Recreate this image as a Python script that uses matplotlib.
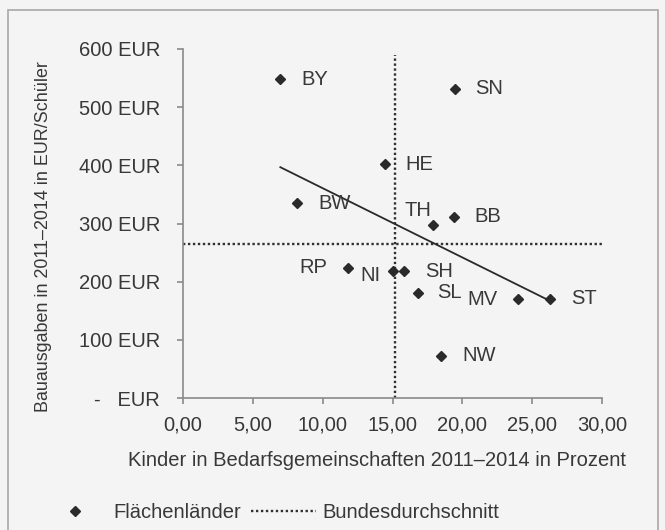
import numpy as np
import matplotlib
matplotlib.use("Agg")
import matplotlib.pyplot as plt
from matplotlib.lines import Line2D
from matplotlib.patches import Rectangle

plt.rcParams['font.family'] = ['Liberation Sans', 'DejaVu Sans']

# Flächenländer: Kinder in Bedarfsgemeinschaften (%) vs. Bauausgaben (EUR/Schüler)
laender = ["BY", "SN", "HE", "BW", "TH", "BB", "RP", "NI", "SH", "SL", "MV", "ST", "NW"]
kinder = [6.97, 19.45, 14.45, 8.18, 17.88, 19.39, 11.82, 15.0, 15.82, 16.82, 24.0, 26.27, 18.48]
bauausgaben = [548, 532, 402, 335, 298, 312, 224, 218, 218, 181, 171, 171, 73]

# Bundesdurchschnitt
avg_kinder = 15.2
avg_bau = 264

yticks = [0, 100, 200, 300, 400, 500, 600]
ytick_labels = ["-   EUR", "100 EUR", "200 EUR", "300 EUR", "400 EUR", "500 EUR", "600 EUR"]
xticks = [0, 5, 10, 15, 20, 25, 30]

# label offsets (points) and alignment per Land
offsets = {
    "BY": (15, 0, "left"), "SN": (15, 0, "left"), "HE": (15, 0, "left"),
    "BW": (15, 0, "left"), "TH": (-11, 10, "center"), "BB": (15, 0, "left"),
    "RP": (-15, 0, "right"), "NI": (-9, -3, "right"), "SH": (15, 0, "left"),
    "SL": (14, 0, "left"), "MV": (-15, -1, "right"), "ST": (15, 0, "left"),
    "NW": (15, 0, "left"),
}

txt = '#383838'
grey = '#8a8a8a'
fs = 14.5

fig = plt.figure(figsize=(6.65, 5.3), dpi=100)
fig.patch.set_facecolor('#f4f4f4')
fig.add_artist(Rectangle((8/665, -0.02), 650/665, 1 - 10/530 + 0.02, transform=fig.transFigure,
                         fill=False, edgecolor='#a8a8a8', linewidth=1.2))

ax = fig.add_axes([183/665, 1 - 398/530, 419/665, 349/530])
ax.set_facecolor('none')

ax.plot([0, 30], [avg_bau, avg_bau], color='#303030', linewidth=1.7, linestyle=(0, (1, 1.1)))
ax.plot([avg_kinder, avg_kinder], [0, 590], color='#303030', linewidth=1.7, linestyle=(0, (1, 1.1)))

# Trendlinie
k, d = np.polyfit(kinder, bauausgaben, 1)
xs = np.array([min(kinder), max(kinder)])
ax.plot(xs, k * xs + d, color='#2a2a2a', linewidth=1.3)

ax.plot(kinder, bauausgaben, linestyle='none', marker='D', markersize=5.3, color='#2a2a2a')

for name, x, y in zip(laender, kinder, bauausgaben):
    dx, dy, ha = offsets[name]
    ax.annotate(name, (x, y), xytext=(dx, dy), textcoords='offset points',
                ha=ha, va='center', fontsize=fs, color=txt)

ax.set_xlim(0, 30)
ax.set_ylim(0, 600)
ax.set_xticks(xticks)
ax.set_xticklabels([f"{v:.2f}".replace('.', ',') for v in xticks])
ax.set_yticks(yticks)
ax.set_yticklabels(ytick_labels)
ax.tick_params(colors=grey, labelcolor=txt, labelsize=fs, length=4.5, width=1.2)
ax.tick_params(axis='y', pad=12)
ax.tick_params(axis='x', pad=8)
for s in ['top', 'right']:
    ax.spines[s].set_visible(False)
for s in ['left', 'bottom']:
    ax.spines[s].set_color(grey)
    ax.spines[s].set_linewidth(1.2)

fig.text(377/665, 1 - 460/530, "Kinder in Bedarfsgemeinschaften 2011–2014 in Prozent",
         ha='center', va='center', fontsize=fs, color=txt)
fig.text(44/665, 1 - 237/530, "Bauausgaben in 2011–2014 in EUR/Schüler", rotation=90,
         ha='center', va='center', fontsize=12.9, color=txt)

handles = [
    Line2D([], [], linestyle='none', marker='D', markersize=5.3, color='#2a2a2a'),
    Line2D([], [], color='#303030', linewidth=1.7, linestyle=(0, (1, 1.1))),
]
fig.legend(handles, ["Flächenländer", "Bundesdurchschnitt"], loc='center left',
           bbox_to_anchor=(25/665, 1 - 513/530), ncol=2, frameon=False, fontsize=fs,
           handlelength=3.2, handletextpad=0.3, columnspacing=0.5, labelcolor=txt)

fig.savefig("out.png", dpi=100, facecolor=fig.get_facecolor())
